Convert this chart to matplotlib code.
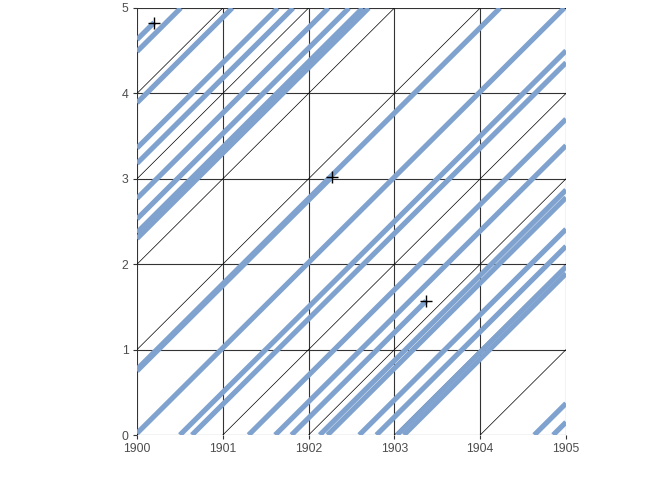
import matplotlib
matplotlib.use("Agg")
import matplotlib.pyplot as plt
import numpy as np

plt.rcParams['font.family'] = ['Liberation Sans', 'DejaVu Sans']

# Lexis diagram data
years = [1900, 1901, 1902, 1903, 1904, 1905]
ages = [0, 1, 2, 3, 4, 5]

# birth dates of individuals (life lines)
births = [1895.37, 1895.51, 1896.11, 1896.64, 1896.82, 1897.23, 1897.47,
          1897.63, 1897.70, 1899.25, 1899.23, 1899.98, 1900.50, 1900.64,
          1901.30, 1901.61, 1901.80, 1902.13, 1902.22, 1902.59, 1902.79,
          1903.03, 1903.11, 1904.63, 1904.85]
# death dates (nan = survives past observation window)
deaths = [1900.20, np.nan, np.nan, np.nan, np.nan, np.nan, np.nan,
          np.nan, np.nan, 1902.27, np.nan, np.nan, np.nan, np.nan,
          np.nan, np.nan, 1903.37, np.nan, np.nan, np.nan, np.nan,
          np.nan, np.nan, np.nan, np.nan]

fig = plt.figure(figsize=(6.72, 4.80), dpi=100)
ax = fig.add_axes([137/672, 1-435/480, (566-137)/672, (435-8)/480])

x0, x1 = years[0], years[-1]
a0, a1 = ages[0], ages[-1]

# grid
for yv in years:
    ax.plot([yv, yv], [a0, a1], color="#333333", lw=0.8, zorder=1)
for av in ages:
    ax.plot([x0, x1], [av, av], color="#333333", lw=0.8, zorder=1)
# diagonal lines (cohorts)
for c in range(x0 - a1, x1):
    xs = max(x0, c); xe = min(x1, c + a1)
    ax.plot([xs, xe], [xs - c, xe - c], color="black", lw=0.5, zorder=1)

# life lines
blue = "#7fa2cf"
for b, d in zip(births, deaths):
    xs = max(x0, b)
    xe = min(x1, b + a1)
    if not np.isnan(d):
        xe = min(xe, d)
    ax.plot([xs, xe], [xs - b, xe - b], color=blue, lw=3.7,
            solid_capstyle="butt", zorder=2)
    if not np.isnan(d):
        ax.plot([d], [d - b], marker="+", color="black", ms=9, mew=1.0,
                zorder=3, linestyle="none")

ax.set_xlim(x0, x1)
ax.set_ylim(a0, a1)
ax.set_xticks(years)
ax.set_yticks(ages)
ax.set_xticklabels([str(y) for y in years])
ax.set_yticklabels([str(a) for a in ages])
for s in ax.spines.values():
    s.set_visible(False)
ax.tick_params(axis="both", length=3, width=0.8, color="#333333",
               labelsize=8.8, labelcolor="#4d4d4d", pad=3)
ax.set_facecolor("white")

fig.savefig("out.png", dpi=100)
